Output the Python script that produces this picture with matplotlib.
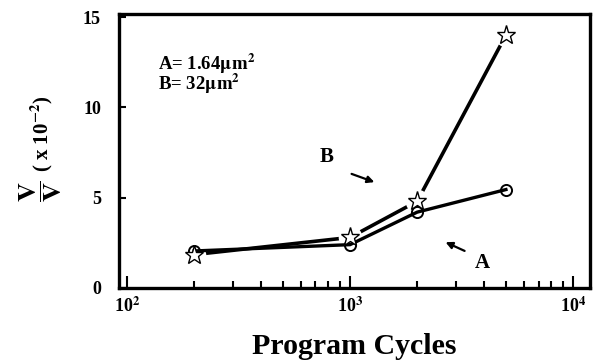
import numpy as np
import matplotlib
matplotlib.use('Agg')
import matplotlib.pyplot as plt
from matplotlib.ticker import LogLocator, FixedLocator, NullFormatter

plt.rcParams['font.family'] = ['Liberation Serif', 'DejaVu Serif']
plt.rcParams['font.weight'] = 'bold'
plt.rcParams['mathtext.fontset'] = 'stix'

cycles = [200, 1000, 2000, 5000]
val_a = [2.05, 2.4, 4.2, 5.45]   # A, kruzhki
val_b = [1.85, 2.8, 4.8, 14.0]   # B, zvezdochki

fig = plt.figure(figsize=(5.95, 3.6), dpi=100)
ax = fig.add_axes([119/595, 1-288/360, (590-119)/595, (288-14)/360])

# B liniya s razryvami vozle markerov
ax.plot(cycles, val_b, 'k-', lw=2.6, zorder=2)
ax.plot(cycles, val_b, ls='none', marker='o', ms=17, mfc='white', mec='none', zorder=3)
ax.plot(cycles, val_a, 'k-', lw=2.4, marker='o', ms=8, mfc='none', mec='k', mew=1.4, zorder=4)
ax.plot(cycles, val_b, ls='none', marker='*', ms=14, mfc='white', mec='k', mew=1.0, zorder=5)

ax.set_xscale('log')
ax.set_xlim(10**1.964, 10**4.076)
ax.set_ylim(0, 15.17)
ax.set_yticks([0, 5, 10, 15])
ax.xaxis.set_major_locator(FixedLocator([100, 1000, 10000]))
ax.xaxis.set_minor_locator(LogLocator(base=10, subs=np.arange(2, 10)))
ax.xaxis.set_minor_formatter(NullFormatter())
ax.set_xticklabels([r'10$^{\mathbf{2}}$', r'10$^{\mathbf{3}}$', r'10$^{\mathbf{4}}$'])

ax.tick_params(axis='both', which='major', direction='in', length=9, width=1.5, labelsize=13)
ax.tick_params(axis='x', which='minor', direction='in', length=5, width=1.5)
ax.tick_params(axis='y', which='major', length=5, pad=13)
ax.tick_params(axis='x', which='major', pad=6)
for s in ax.spines.values():
    s.set_linewidth(2.4)

ax.set_xlabel('Program Cycles', fontsize=21.5, fontweight='bold', labelpad=12)

# podpis osi y: drob' otdel'no, chtoby byla krupnee
fig.text(41/595, 1-191/360, r'$\dfrac{\mathbf{V}}{\mathbf{V}}$', rotation=90,
         fontsize=19, ha='center', va='center')
fig.text(42/595, 1-134/360, r'( x 10$^{\mathbf{-2}}$)', rotation=90,
         fontsize=15, fontweight='bold', ha='center', va='center')

ax.text(0.083, 0.862, 'A= 1.64$\\mathbf{\\mu}$m$^{\\mathbf{2}}$\nB= 32$\\mathbf{\\mu}$m$^{\\mathbf{2}}$',
        transform=ax.transAxes, fontsize=13.5, fontweight='bold', va='top', linespacing=0.75)

ax.annotate('', xy=(1321, 5.81), xytext=(989, 6.37),
            arrowprops=dict(arrowstyle='-|>', color='k', lw=1.6, mutation_scale=10))
ax.text(789, 7.25, 'B', fontsize=15, fontweight='bold', ha='center', va='center')
ax.annotate('', xy=(2612, 2.6), xytext=(3350, 1.99),
            arrowprops=dict(arrowstyle='-|>', color='k', lw=1.6, mutation_scale=10))
ax.text(3908, 1.38, 'A', fontsize=15, fontweight='bold', ha='center', va='center')

fig.savefig('out.png', dpi=100)
